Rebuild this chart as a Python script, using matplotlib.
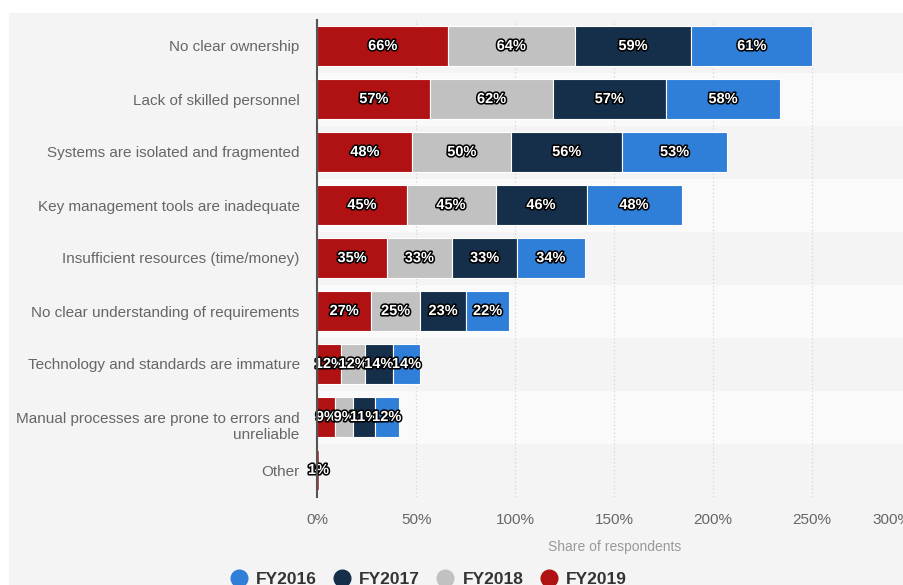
import numpy as np
import matplotlib
matplotlib.use("Agg")
import matplotlib.pyplot as plt
import matplotlib.patheffects as pe
import matplotlib.transforms as mtransforms
from matplotlib.patches import Rectangle
from matplotlib.lines import Line2D

plt.rcParams['font.family'] = ['Liberation Sans', 'DejaVu Sans']

categories = [
    "No clear ownership",
    "Lack of skilled personnel",
    "Systems are isolated and fragmented",
    "Key management tools are inadequate",
    "Insufficient resources (time/money)",
    "No clear understanding of requirements",
    "Technology and standards are immature",
    "Manual processes are prone to errors and\nunreliable",
    "Other",
]
fy2019 = [66, 57, 48, 45, 35, 27, 12, 9, 1]
fy2018 = [64, 62, 50, 45, 33, 25, 12, 9, 0]
fy2017 = [59, 57, 56, 46, 33, 23, 14, 11, 0]
fy2016 = [61, 58, 53, 48, 34, 22, 14, 12, 0]
xticks = [0, 50, 100, 150, 200, 250, 300]

# stacking order left to right
series = [
    ("FY2019", fy2019, "#b01112"),
    ("FY2018", fy2018, "#c1c1c1"),
    ("FY2017", fy2017, "#152f4a"),
    ("FY2016", fy2016, "#2f7ed8"),
]

W, H = 904, 585
fig = plt.figure(figsize=(W / 100, H / 100), dpi=100, facecolor="white")

# grey panel behind everything
fig.add_artist(Rectangle((9 / W, 0), 1, (H - 13) / H, transform=fig.transFigure,
                         facecolor="#f4f4f4", edgecolor="none", zorder=0))

left_px, right_px, top_px, bot_px = 317.5, 911, 19.5, 496.5
ax = fig.add_axes([left_px / W, 1 - bot_px / H, (right_px - left_px) / W, (bot_px - top_px) / H])
ax.set_facecolor("#f4f4f4")

y = np.arange(len(categories))
for i in y:
    if i % 2 == 1:
        ax.axhspan(i - 0.5, i + 0.5, color="#fafafa", zorder=0, lw=0)

for xv in xticks[1:]:
    ax.axvline(xv, color="#dadada", lw=0.9, ls=(0, (1.2, 1.8)), zorder=0.5)

left = np.zeros(len(categories))
for name, vals, col in series:
    vals = np.array(vals, dtype=float)
    ax.barh(y, vals, left=left, height=0.76, color=col, edgecolor="white", linewidth=0.8, zorder=2)
    for yi, (l, v) in enumerate(zip(left, vals)):
        if v > 0:
            ax.text(l + v / 2, yi, f"{int(v)}%", ha="center", va="center", color="white",
                    fontsize=10.5, fontweight="bold", zorder=3,
                    path_effects=[pe.withStroke(linewidth=2.2, foreground="black")])
    left += vals

ax.set_xlim(0, 300)
ax.set_ylim(len(categories) - 0.5, -0.5)
ax.set_yticks(y)
# wrapped labels hang below the row centre, so those are placed by hand
ax.set_yticklabels([c if "\n" not in c else "" for c in categories], fontsize=11, color="#666666")
ax.tick_params(axis="y", length=0, pad=12.8)
ax.set_xticks(xticks)
ax.set_xticklabels([f"{v}%" for v in xticks], fontsize=11, color="#666666")
ax.tick_params(axis="x", length=0, pad=12)
ax.get_xticklabels()[-1].set_horizontalalignment("right")

for yi, c in enumerate(categories):
    if "\n" in c:
        tr = ax.get_yaxis_transform() + mtransforms.ScaledTranslation(-12.8 / 72, 4.5 / 100, fig.dpi_scale_trans)
        ax.text(0, yi, c, transform=tr, ha="right", va="top", multialignment="right",
                fontsize=11, color="#666666", linespacing=1.1, clip_on=False)

for s in ["top", "right", "bottom"]:
    ax.spines[s].set_visible(False)
ax.spines["left"].set_color("#555555")
ax.spines["left"].set_linewidth(1.5)
ax.spines["left"].set_zorder(4)

ax.set_xlabel("Share of respondents", fontsize=10, color="#999999", labelpad=9)

handles = [Line2D([], [], ls="none", marker="o", markersize=12, markerfacecolor=c, markeredgecolor=c)
           for _, _, c in series[::-1]]
labels = [n for n, _, _ in series[::-1]]
leg = fig.legend(handles, labels, loc="center", bbox_to_anchor=(0.474, 0.009), ncol=4, frameon=False,
                 prop={"size": 12.5, "weight": "bold"}, handlelength=1.0, handletextpad=0.5,
                 columnspacing=0.95, labelcolor="#333333")

fig.savefig("out.png", dpi=100, facecolor=fig.get_facecolor())
